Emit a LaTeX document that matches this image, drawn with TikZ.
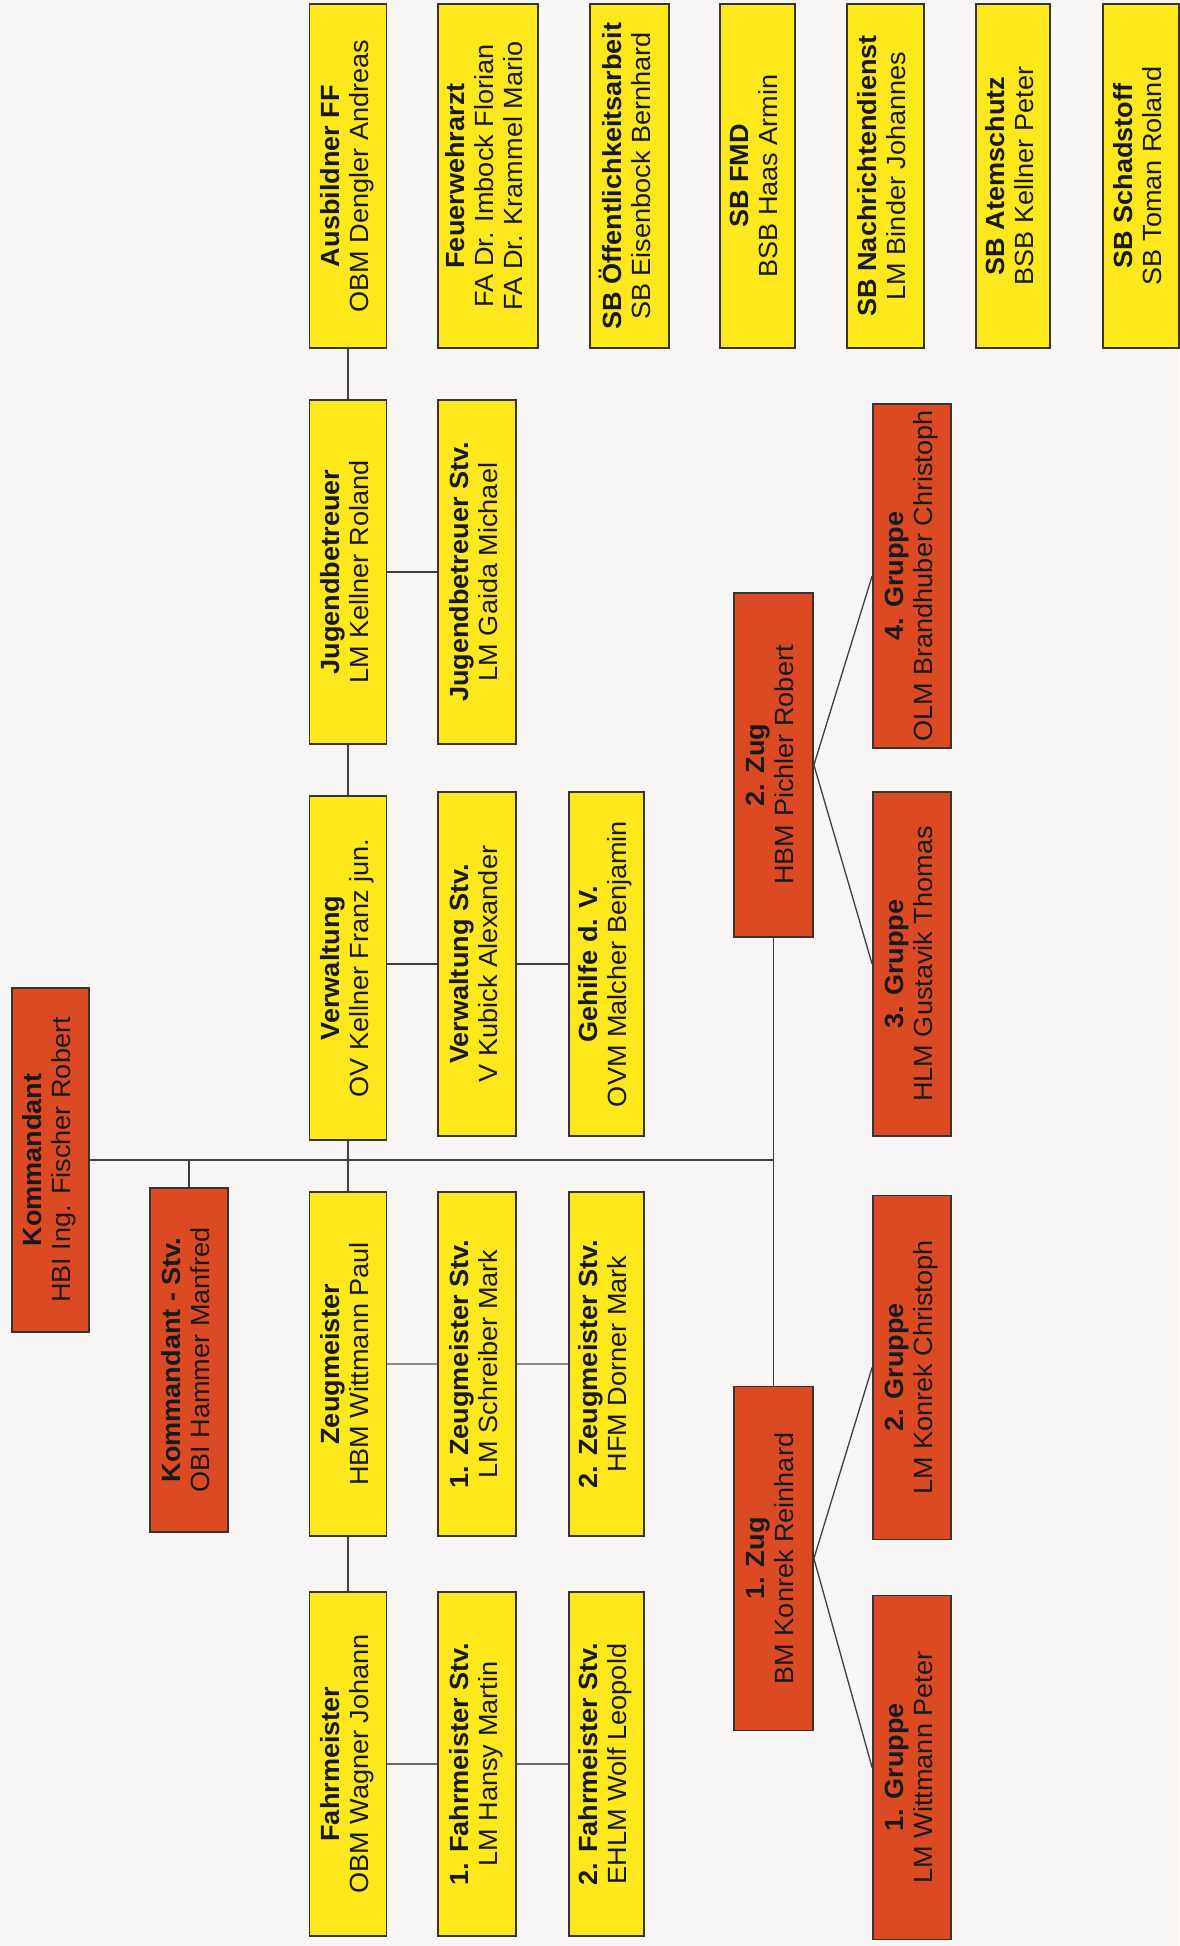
\documentclass[tikz,border=0pt]{standalone}
\usepackage{fontspec}
\setmainfont{Liberation Sans}
\usepackage{graphicx}
\definecolor{amtgelb}{RGB}{255,232,28}
\definecolor{einheitrot}{RGB}{220,74,36}
\definecolor{rahmen}{RGB}{55,52,48}
\definecolor{strich}{RGB}{62,62,62}
\definecolor{hellstrich}{RGB}{140,140,140}
\definecolor{mittelstrich}{RGB}{105,105,105}
\definecolor{grund}{RGB}{247,246,244}
\newcommand{\posten}[2]{\rotatebox{90}{\scalebox{1.03}[1]{\begin{tabular}{@{}c@{}}\textbf{#1}\\#2\end{tabular}}}}

\begin{document}
\begin{tikzpicture}[x=1pt,y=-1pt,
    kasten/.style={draw=rahmen,line width=1.8pt,inner sep=0pt,minimum width=77pt,
      minimum height=344pt,text=black!90,font=\fontsize{26.3}{29}\selectfont},
    amt/.style={kasten,fill=amtgelb},
    einheit/.style={kasten,fill=einheitrot},
    verbindung/.style={draw=strich,line width=1.6pt}]
  \fill[grund] (0,0) rectangle (1179,1946);
  \useasboundingbox (0,0) rectangle (1179,1946);

  % Kommando
  \node[einheit] (kdt) at (50.5,1160) {\posten{Kommandant}{HBI Ing. Fischer Robert}};
  \node[einheit,minimum width=78pt] (kdtstv) at (189,1360) {\posten{Kommandant - Stv.}{OBI Hammer Manfred}};

  % Sachgebiete
  \node[amt] (ausb) at (348,176) {\posten{Ausbildner FF}{OBM Dengler Andreas}};
  \node[amt,minimum width=100pt] (arzt) at (488,176) {\posten{Feuerwehrarzt}{FA Dr. Imbock Florian\\FA Dr. Krammel Mario}};
  \node[amt,minimum width=79pt] (oeff) at (629.5,176) {\posten{SB Öffentlichkeitsarbeit}{SB Eisenbock Bernhard}};
  \node[amt,minimum width=75pt] (fmd) at (757.5,176) {\posten{SB FMD}{BSB Haas Armin}};
  \node[amt] (nachr) at (885.5,176) {\posten{SB Nachrichtendienst}{LM Binder Johannes}};
  \node[amt,minimum width=74pt] (atem) at (1013,176) {\posten{SB Atemschutz}{BSB Kellner Peter}};
  \node[amt,minimum width=76pt] (schad) at (1141,176) {\posten{SB Schadstoff}{SB Toman Roland}};

  \node[amt] (jugend) at (348,572) {\posten{Jugendbetreuer}{LM Kellner Roland}};
  \node[amt,minimum width=78pt] (jugendstv) at (477,572) {\posten{Jugendbetreuer Stv.}{LM Gaida Michael}};

  \node[amt] (verw) at (348,968) {\posten{Verwaltung}{OV Kellner Franz jun.}};
  \node[amt,minimum width=78pt] (verwstv) at (477,964) {\posten{Verwaltung Stv.}{V Kubick Alexander}};
  \node[amt,minimum width=75pt] (gehilfe) at (606.5,964) {\posten{Gehilfe d. V.}{OVM Malcher Benjamin}};

  \node[amt] (zeug) at (348,1364) {\posten{Zeugmeister}{HBM Wittmann Paul}};
  \node[amt,minimum width=78pt] (zeugstva) at (477,1364) {\posten{1. Zeugmeister Stv.}{LM Schreiber Mark}};
  \node[amt,minimum width=75pt] (zeugstvb) at (606.5,1364) {\posten{2. Zeugmeister Stv.}{HFM Dorner Mark}};

  \node[amt] (fahr) at (348,1764) {\posten{Fahrmeister}{OBM Wagner Johann}};
  \node[amt,minimum width=78pt] (fahrstva) at (477,1764) {\posten{1. Fahrmeister Stv.}{LM Hansy Martin}};
  \node[amt,minimum width=75pt] (fahrstvb) at (606.5,1764) {\posten{2. Fahrmeister Stv.}{EHLM Wolf Leopold}};

  % Zuege und Gruppen
  \node[einheit,minimum width=79pt] (zug2) at (773.5,765) {\posten{2. Zug}{HBM Pichler Robert}};
  \node[einheit,minimum width=79pt] (zug1) at (773.5,1558.5) {\posten{1. Zug}{BM Konrek Reinhard}};
  \node[einheit,minimum width=78pt] (grp4) at (912,576) {\posten{4. Gruppe}{OLM Brandhuber Christoph}};
  \node[einheit,minimum width=78pt] (grp3) at (912,964) {\posten{3. Gruppe}{HLM Gustavik Thomas}};
  \node[einheit,minimum width=78pt] (grp2) at (912,1367.5) {\posten{2. Gruppe}{LM Konrek Christoph}};
  \node[einheit,minimum width=78pt] (grp1) at (912,1767.5) {\posten{1. Gruppe}{LM Wittmann Peter}};

  % Verbindungen
  \draw[verbindung] (kdt.east) -- (kdt.east -| zug1.north);
  \draw[verbindung] (kdtstv.north) -- (kdtstv.north |- kdt.east);
  \draw[verbindung,line width=1.3pt] (zug2.south) -- (zug1.north);
  \foreach \a/\b in {ausb/jugend,jugend/verw,verw/zeug,zeug/fahr}
    \draw[verbindung] (\a.south) -- (\b.north);
  \draw[verbindung] (jugend.east) -- (jugendstv.west);
  \draw[verbindung] (verwstv.west -| verw.east) -- (verwstv.west)
    (verwstv.east) -- (gehilfe.west);
  \draw[verbindung,draw=hellstrich] (zeug.east) -- (zeugstva.west)
    (zeugstva.east) -- (zeugstvb.west);
  \draw[verbindung,draw=mittelstrich,line width=2.6pt] (fahr.east) -- (fahrstva.west)
    (fahrstva.east) -- (fahrstvb.west);
  \draw[verbindung,line width=1.3pt] (zug2.east) -- (grp4.west) (zug2.east) -- (grp3.west);
  \draw[verbindung,line width=1.3pt] (zug1.east) -- (grp2.west) (zug1.east) -- (grp1.west);
\end{tikzpicture}
\end{document}
